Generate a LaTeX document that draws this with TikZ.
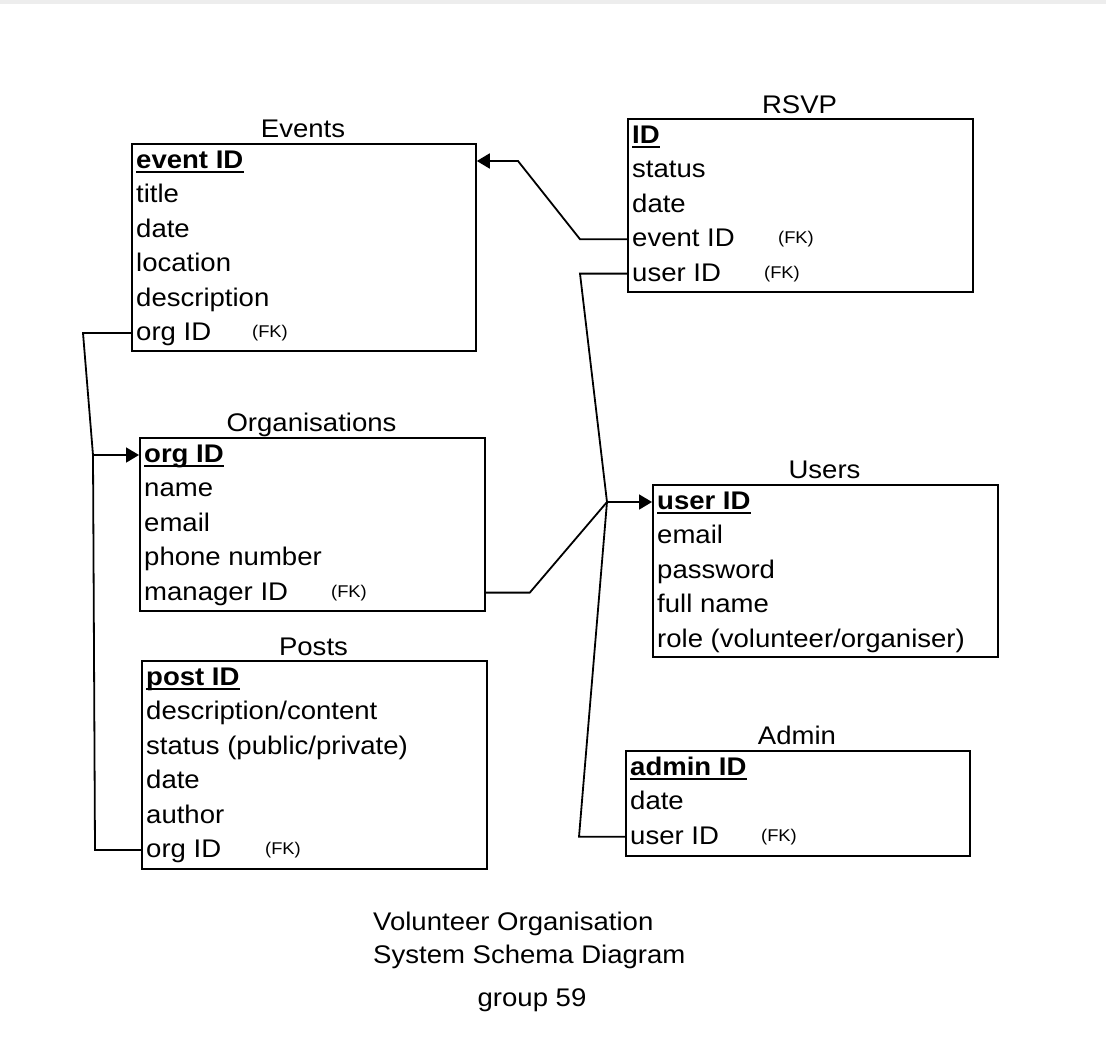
\documentclass[tikz,border=0pt]{standalone}
\usepackage{fontspec}
\setmainfont[FakeStretch=1.08]{Liberation Sans}
\usetikzlibrary{arrows.meta}
\tikzset{
  erbox/.style={draw=black, line width=1.8pt, fill=white, anchor=north west, inner sep=0pt},
  ertitle/.style={anchor=base, inner sep=0pt, font=\fontsize{25.5}{30}\selectfont},
  errow/.style={anchor=west, inner sep=0pt, text height=20pt, text depth=5pt, font=\fontsize{25.5}{30}\selectfont},
  erkey/.style={errow, font=\fontsize{25.5}{30}\selectfont\bfseries},
  erfk/.style={anchor=center, inner sep=0pt, font=\fontsize{17}{20}\selectfont},
  erline/.style={line width=1.8pt},
  erarrow/.style={erline, -{Triangle[length=13pt,width=15pt]}},
  capline/.style={anchor=base west, inner sep=0pt, font=\fontsize{25.5}{30}\selectfont}
}

\begin{document}
\begin{tikzpicture}[x=1pt,y=-1pt]
  \useasboundingbox (0,0) rectangle (1106,1058);
  \fill[white] (0,0) rectangle (1106,1058);
  \fill[black!7] (0,0) rectangle (1106,4);

  % Events
  \node[ertitle] (evtitle) at (303,137) {Events};
  \node[erbox, minimum width=344pt, minimum height=207pt] (events) at (131,143) {};
  \node[erkey] (ev1) at (136,161) {event ID};
  \foreach \t [count=\i from 2] in {title,date,location,description,org ID}
    \node[errow] (ev\i) at (136,{161+34.4*(\i-1)}) {\t};
  \node[erfk] (evfk) at (270,333) {(FK)};

  % RSVP
  \node[ertitle] (rstitle) at (799.5,113) {RSVP};
  \node[erbox, minimum width=345pt, minimum height=173pt] (rsvp) at (627,118) {};
  \node[erkey] (rs1) at (632,136) {ID};
  \foreach \t [count=\i from 2] in {status,date,event ID,user ID}
    \node[errow] (rs\i) at (632,{136+34.4*(\i-1)}) {\t};
  \node[erfk] (rsfka) at (796,239) {(FK)};
  \node[erfk] (rsfkb) at (782,273.6) {(FK)};

  % Organisations
  \node[ertitle] (ortitle) at (311.5,431) {Organisations};
  \node[erbox, minimum width=345pt, minimum height=173pt] (orgs) at (139,437) {};
  \node[erkey] (or1) at (144,455) {org ID};
  \foreach \t [count=\i from 2] in {name,email,phone number,manager ID}
    \node[errow] (or\i) at (144,{455+34.4*(\i-1)}) {\t};
  \node[erfk] (orfk) at (349,592.6) {(FK)};

  % Posts
  \node[ertitle] (potitle) at (313.5,655) {Posts};
  \node[erbox, minimum width=345pt, minimum height=208pt] (posts) at (141,660) {};
  \node[erkey] (po1) at (146,678) {post ID};
  \foreach \t [count=\i from 2] in {description/content,status (public/private),date,author,org ID}
    \node[errow] (po\i) at (146,{678+34.4*(\i-1)}) {\t};
  \node[erfk] (pofk) at (283,850) {(FK)};

  % Users
  \node[ertitle] (ustitle) at (824.5,478) {Users};
  \node[erbox, minimum width=345pt, minimum height=172pt] (users) at (652,484) {};
  \node[erkey] (us1) at (657,502) {user ID};
  \foreach \t [count=\i from 2] in {email,password,full name,role (volunteer/organiser)}
    \node[errow] (us\i) at (657,{502+34.4*(\i-1)}) {\t};

  % Admin
  \node[ertitle] (adtitle) at (797,744.5) {Admin};
  \node[erbox, minimum width=344pt, minimum height=105pt] (admin) at (625,750) {};
  \node[erkey] (ad1) at (630,768) {admin ID};
  \foreach \t [count=\i from 2] in {date,user ID}
    \node[errow] (ad\i) at (630,{768+34.4*(\i-1)}) {\t};
  \node[erfk] (adfk) at (779,836.8) {(FK)};

  % primary keys
  \foreach \k in {ev1,rs1,or1,po1,us1,ad1}
    \draw[line width=1.6pt] ([yshift=-3.5pt]\k.base west) -- ([yshift=-3.5pt]\k.base east);

  % links
  \draw[erarrow] (rs4 -| rsvp.west) -- ++(-47,0) -- (518,161) -- (ev1 -| events.east);

  \coordinate (orgjoin) at (93,455);
  \draw[erline] (ev6 -| events.west) -- ++(-48,0) -- (orgjoin);
  \draw[erline] (po6 -| posts.west) -- ++(-46,0) -- (orgjoin);
  \draw[erarrow] (orgjoin) -- (or1 -| orgs.west);

  \coordinate (userjoin) at (607,502);
  \draw[erline] (rs5 -| rsvp.west) -- ++(-47,0) -- (userjoin);
  \draw[erline] (or5 -| orgs.east) -- ++(44,0) -- (userjoin);
  \draw[erline] (ad3 -| admin.west) -- ++(-46,0) -- (userjoin);
  \draw[erarrow] (userjoin) -- (us1 -| users.west);

  % caption
  \node[capline] (cap1) at (373,930) {Volunteer Organisation};
  \node[capline] (cap2) at (373,963) {System Schema Diagram};
  \node[ertitle] (grp) at (532,1006) {group 59};
\end{tikzpicture}
\end{document}
